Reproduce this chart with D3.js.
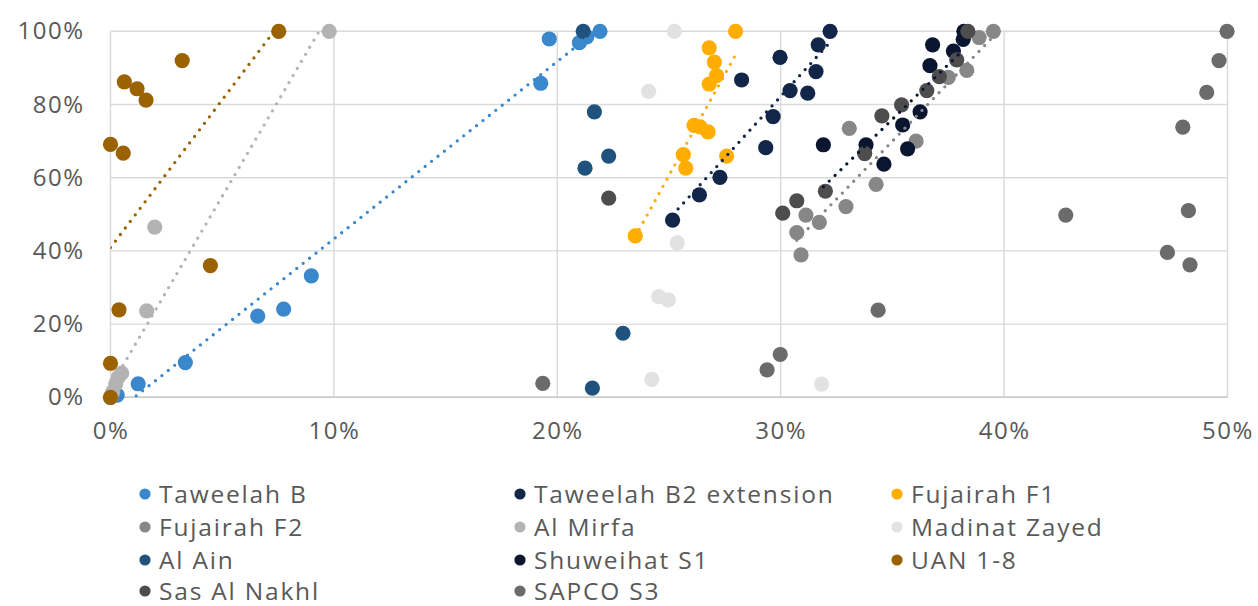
<!DOCTYPE html>
<html>
<head>
<meta charset="utf-8">
<script src="https://cdn.jsdelivr.net/npm/d3@7"></script>
<style>
  html, body { margin: 0; padding: 0; background: #fff; }
  svg { display: block; font-family: "Open Sans", "Noto Sans", sans-serif; }
</style>
</head>
<body>
<svg id="chart" width="1258" height="606"></svg>
<script>
// Axis ticks (percent)
const xTicks = [0, 10, 20, 30, 40, 50];
const yTicks = [0, 20, 40, 60, 80, 100];

// Series names in legend / drawing order
const seriesNames = [
  "Taweelah B", "Taweelah B2 extension", "Fujairah F1",
  "Fujairah F2", "Al Mirfa", "Madinat Zayed",
  "Al Ain", "Shuweihat S1", "UAN 1-8",
  "Sas Al Nakhl", "SAPCO S3"
];
const seriesColors = [
  "#3a88cb", "#122649", "#ffad00",
  "#878787", "#b3b3b3", "#e2e2e2",
  "#1f527c", "#0a1630", "#9a6200",
  "#4d4d4d", "#6b6b6b"
];

// Points as [x %, y %]
const taweelahB = [[0,0],[0.3,0.6],[1.24,3.7],[3.35,9.5],[6.59,22.2],[7.75,24.1],[8.99,33.2],
  [19.26,85.8],[19.64,97.9],[20.99,96.9],[21.32,98.5],[21.91,100]];
const taweelahB2 = [[25.16,48.4],[26.36,55.3],[27.28,60.1],[29.33,68.2],[29.66,76.7],[31.21,83.1],
  [30.42,83.8],[28.25,86.7],[31.58,89.0],[29.97,92.9],[31.68,96.3],[32.21,100]];
const fujairahF1 = [[23.49,44.1],[25.75,62.6],[25.64,66.3],[27.58,65.9],[26.75,72.5],[26.39,73.9],
  [26.12,74.3],[26.8,85.6],[27.13,87.9],[27.03,91.6],[26.8,95.5],[27.98,100]];
const fujairahF2 = [[30.91,38.9],[30.72,45.0],[31.73,47.8],[31.13,49.8],[32.92,52.1],[34.27,58.2],
  [36.06,70.0],[33.07,73.5],[37.5,87.4],[38.33,89.3],[38.88,98.3],[39.52,100]];
const alMirfa = [[0,0],[0.1,1.5],[0.23,3.6],[0.35,5.5],[0.5,6.6],[1.62,23.6],[1.98,46.5],[9.79,100]];
const madinatZayed = [[24.23,4.9],[24.97,26.6],[24.54,27.5],[25.37,42.2],[24.09,83.6],[25.24,100],[31.83,3.6]];
const alAin = [[21.57,2.5],[22.94,17.5],[21.24,62.6],[22.3,65.9],[21.66,78.0],[21.16,100]];
const shuweihatS1 = [[31.91,69.0],[33.82,69.0],[34.62,63.7],[35.68,67.9],[35.46,74.4],[36.24,78.0],
  [36.68,90.6],[36.8,96.3],[37.73,94.6],[38.17,97.8],[38.2,100]];
const uan18 = [[0,0],[0,9.3],[0.38,23.9],[4.47,36.0],[0.57,66.7],[0,69.1],[1.59,81.2],[1.19,84.3],
  [0.62,86.2],[3.21,92.0],[7.53,100]];
const sasAlNakhl = [[22.3,54.4],[30.09,50.3],[30.72,53.7],[32.0,56.3],[33.76,66.6],[34.53,76.9],
  [35.41,79.9],[36.54,83.8],[37.1,87.6],[37.88,92.2],[38.38,100]];
const sapcoS3 = [[19.35,3.8],[29.39,7.5],[29.98,11.7],[34.36,23.8],[48.32,36.2],[47.31,39.6],[42.76,49.8],
  [48.25,51.0],[48.0,73.8],[49.07,83.3],[49.62,92.0],[49.98,100]];

const seriesPoints = [taweelahB, taweelahB2, fujairahF1, fujairahF2, alMirfa, madinatZayed,
  alAin, shuweihatS1, uan18, sasAlNakhl, sapcoS3];

// Linear trendlines: [series index, x start %, y start %, x end %, y end %]
const trendlines = [
  [0, 0, -5.2, 21.91, 101.0],
  [1, 25.16, 49.8, 32.21, 97.0],
  [2, 23.49, 43.9, 27.98, 93.6],
  [3, 30.72, 42.9, 39.52, 98.6],
  [4, 0, 2.9, 9.79, 104.7],
  [7, 31.91, 57.5, 38.2, 95.1],
  [8, 0, 40.9, 7.53, 101.7]
];

const svg = d3.select("#chart");
const x = d3.scaleLinear().domain([0, 50]).range([110.5, 1227.5]);
const y = d3.scaleLinear().domain([0, 100]).range([397.3, 31.3]);

const textColor = "#595959";

// Gridlines
const grid = svg.append("g");
grid.selectAll(".gx").data(xTicks).join("line")
  .attr("x1", d => x(d)).attr("x2", d => x(d))
  .attr("y1", y(0)).attr("y2", y(100))
  .attr("stroke", "#d9d9d9").attr("stroke-width", 1.4);
grid.selectAll(".gy").data(yTicks).join("line")
  .attr("x1", x(0)).attr("x2", x(50))
  .attr("y1", d => y(d)).attr("y2", d => y(d))
  .attr("stroke", "#d9d9d9").attr("stroke-width", 1.4);
// Baseline
svg.append("line")
  .attr("x1", x(0)).attr("x2", x(50)).attr("y1", y(0)).attr("y2", y(0))
  .attr("stroke", "#c8c8c8").attr("stroke-width", 1.6);

// Axes via d3-axis, styled down to labels only
const xAxis = svg.append("g")
  .attr("transform", `translate(0,${y(0)})`)
  .call(d3.axisBottom(x).tickValues(xTicks).tickFormat(d => d + "%").tickSize(0).tickPadding(25));
const yAxis = svg.append("g")
  .attr("transform", `translate(${x(0)},0)`)
  .call(d3.axisLeft(y).tickValues(yTicks).tickFormat(d => d + "%").tickSize(0).tickPadding(26));
[xAxis, yAxis].forEach(a => {
  a.select(".domain").remove();
  a.selectAll("text").attr("fill", textColor).style("font-size", "24px")
    .style("font-family", "'Open Sans', sans-serif").attr("letter-spacing", "1.5px");
});

// Clip trendlines to the plot area
svg.append("clipPath").attr("id", "plotClip")
  .append("rect")
  .attr("x", x(0)).attr("y", y(100))
  .attr("width", x(50) - x(0)).attr("height", y(0) - y(100));

// Markers
const marks = svg.append("g");
seriesPoints.forEach((pts, i) => {
  marks.append("g").selectAll("circle").data(pts).join("circle")
    .attr("cx", d => x(d[0])).attr("cy", d => y(d[1]))
    .attr("r", 7.6)
    .attr("fill", seriesColors[i]);
});

// Dotted trendlines on top of markers
const trendG = svg.append("g").attr("clip-path", "url(#plotClip)");
trendG.selectAll("line").data(trendlines).join("line")
  .attr("x1", d => x(d[1])).attr("y1", d => y(d[2]))
  .attr("x2", d => x(d[3])).attr("y2", d => y(d[4]))
  .attr("stroke", d => seriesColors[d[0]])
  .attr("stroke-width", 3.3)
  .attr("stroke-linecap", "round")
  .attr("stroke-dasharray", "0,8.2");

// Legend: three columns, row-major
const legendCols = [145, 520, 897];
const legendRows = [494, 527, 560, 591];
const legend = svg.append("g");
seriesNames.forEach((name, i) => {
  const cx = legendCols[i % 3];
  const cy = legendRows[Math.floor(i / 3)];
  const g = legend.append("g");
  g.append("circle").attr("cx", cx).attr("cy", cy).attr("r", 5.6).attr("fill", seriesColors[i]);
  g.append("text").attr("x", cx + 14).attr("y", cy).attr("dy", "0.35em")
    .attr("fill", textColor).style("font-size", "24.5px").attr("letter-spacing", "1.8px")
    .text(name);
});
</script>
</body>
</html>
